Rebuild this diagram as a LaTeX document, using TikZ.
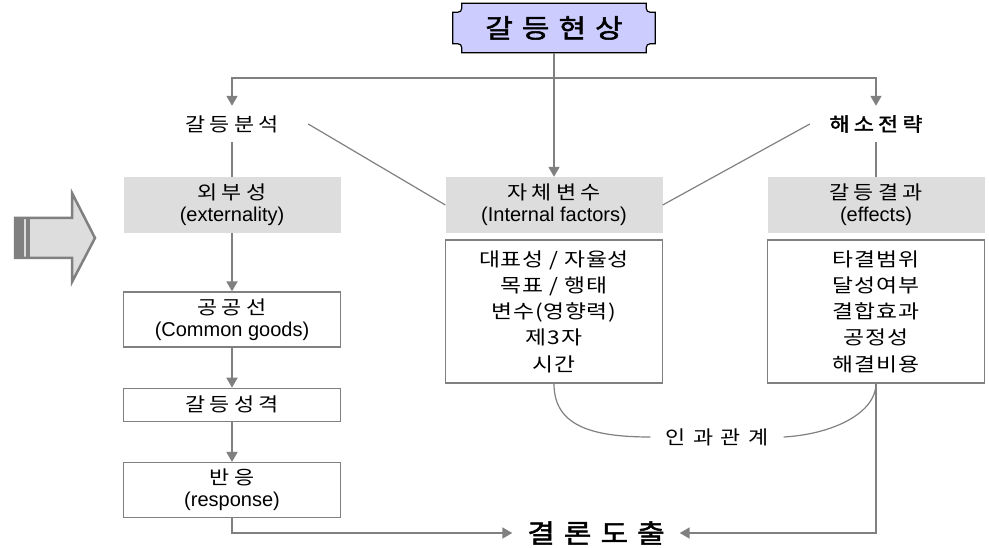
\documentclass[tikz,border=0pt]{standalone}
\usepackage{fontspec}
\setmainfont{Liberation Sans}
\newfontfamily\kr[FakeStretch=1.2,LetterSpace=4]{Noto Sans CJK KR}
\newfontfamily\krw[FakeStretch=1.15,LetterSpace=22]{Noto Sans CJK KR}
\newfontfamily\krx[FakeStretch=1.15,LetterSpace=40]{Noto Sans CJK KR}
\newfontfamily\krb[FakeStretch=1.15,LetterSpace=22,FakeBold=2]{Noto Sans CJK KR}
\newfontfamily\krt[FakeStretch=1.15,LetterSpace=35,FakeBold=2]{Noto Sans CJK KR}
\newcommand{\kLabel}{\krw\fontsize{19}{22}\selectfont}
\newcommand{\kList}{\kr\fontsize{19}{26.3}\selectfont}
\newcommand{\kTitle}{\krt\fontsize{26}{28}\selectfont}
\newcommand{\eText}{\fontsize{20}{22}\selectfont}
\usetikzlibrary{calc}
\usetikzlibrary{positioning}
\usetikzlibrary{chains,arrows.meta,backgrounds}
\definecolor{linegray}{HTML}{808080}
\definecolor{boxgray}{HTML}{DDDDDD}
\definecolor{titleblue}{HTML}{CCCCFF}
\tikzset{
	>={Triangle[length=10pt,width=11pt]},
	conn/.style={draw=linegray, line width=1.8pt},
	thinconn/.style={draw=linegray, line width=1.2pt},
	plaque/.style={
		font=\kTitle,
		minimum width=202pt,
		minimum height=49pt,
		inner sep=0pt},
	plain/.style={
		font=\kLabel,
		minimum height=36pt,
		inner sep=0pt},
	graybox/.style={
		fill=boxgray,
		font=\eText,
		minimum width=217pt,
		minimum height=56pt,
		align=center},
	listbox/.style={
		draw=linegray, line width=1.3pt,
		fill=white,
		font=\kList,
		minimum width=217pt,
		minimum height=143pt,
		align=center},
	stepbox/.style={
		draw=linegray, line width=1.3pt,
		fill=white,
		font=\eText,
		minimum width=217pt,
		align=center,
		on chain},
	every join/.style={conn, ->},
}
\begin{document}
\begin{tikzpicture}
		[x=1pt, y=-1pt, node distance=40pt, start chain=going below]
		\useasboundingbox (0,0) rectangle (989,548);
		% top
		\node[plaque] (title) at (554,28) {갈등현상};
		\begin{scope}[on background layer]
		\draw[fill=titleblue, line width=1.2pt]
			($(title.north west)+(9,0)$) -- ($(title.north east)+(-9,0)$)
			.. controls ($(title.north east)+(-9,9)$) .. ($(title.north east)+(0,9)$)
			-- ($(title.south east)+(0,-9)$)
			.. controls ($(title.south east)+(-9,-9)$) .. ($(title.south east)+(-9,0)$)
			-- ($(title.south west)+(9,0)$)
			.. controls ($(title.south west)+(9,-9)$) .. ($(title.south west)+(0,-9)$)
			-- ($(title.north west)+(0,9)$)
			.. controls ($(title.north west)+(9,9)$) .. ($(title.north west)+(9,0)$)
			-- cycle;
		\end{scope}
		\coordinate (split) at (554,78);
		\node[plain, minimum width=152pt] (analysis) at (232,124) {갈등분석};
		\node[plain, minimum width=132pt, font=\krb\fontsize{19}{22}\selectfont] (strategy) at (876,124) {해소전략};

		% headers
		\node[graybox] (ext) at (232,205) {{\kLabel 외부성}\\(externality)};
		\node[graybox] (internal) at (554,205) {{\kLabel 자체변수}\\(Internal factors)};
		\node[graybox] (effects) at (876,205) {{\kLabel 갈등결과}\\(effects)};
		\node[listbox] (internallist) at (554,311.5) {대표성 / 자율성\\목표 / 행태\\변수(영향력)\\제3자\\시간};
		\node[listbox] (effectslist) at (876,311.5) {타결범위\\달성여부\\결합효과\\공정성\\해결비용};

		% left column
		\node[stepbox, minimum height=55pt] (goods) at (232,319.5) {{\kLabel 공공선}\\(Common goods)};
		\node[stepbox, minimum height=33pt, join] (nature) {{\kLabel 갈등성격}};
		\node[stepbox, minimum height=55pt, join] (response) {{\kLabel 반응}\\(response)};

		\node[plain, minimum width=133pt, font=\krx\fontsize{19}{22}\selectfont] (causal) at (717,437) {인과관계};
		\node[plaque, minimum width=167pt, minimum height=24pt] (conclusion) at (596,533) {결론도출};

		\draw[conn,->] (title) -- (internal);
		\draw[conn,->] (split) -| (analysis);
		\draw[conn,->] (split) -| (strategy);
		\draw[conn] (analysis) -- (ext);
		\draw[conn] (strategy) -- (effects);
		\draw[thinconn] (analysis.east) -- (internal.west);
		\draw[thinconn] (strategy.west) -- (internal.east);
		\draw[conn,->] (ext) -- (goods);
		\draw[thinconn] (internallist.south) .. controls (554,425) and (590,437) .. (causal.west);
		\draw[thinconn] (causal.east) .. controls (835,434) and (876,412) .. (effectslist.south);
		\draw[conn,->] (response) |- (conclusion);
		\draw[conn,->] (effectslist) |- (conclusion);

		% block arrow
		\draw[linegray, line width=2.5pt, fill=boxgray] (15,218) -- (72,218) -- (72,193) -- (95,238) -- (72,282) -- (72,258) -- (15,258) -- cycle;
		\fill[linegray] (14,217) rectangle (24,259);
		\fill[linegray] (25.5,217) rectangle (30,259);
\end{tikzpicture}
\end{document}
